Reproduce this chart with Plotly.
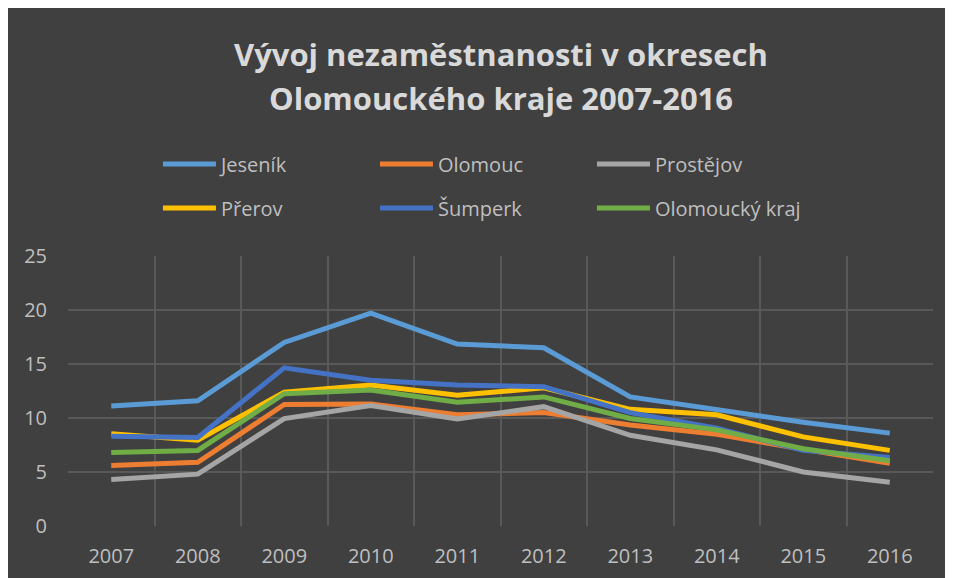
import plotly.graph_objects as go

years = ["2007", "2008", "2009", "2010", "2011", "2012", "2013", "2014", "2015", "2016"]

jesenik = [11.1, 11.6, 17.0, 19.7, 16.85, 16.5, 11.95, 10.8, 9.6, 8.6]
olomouc = [5.6, 5.9, 11.25, 11.3, 10.3, 10.5, 9.35, 8.5, 7.1, 5.8]
prostejov = [4.3, 4.8, 9.95, 11.15, 9.9, 11.05, 8.4, 7.05, 5.0, 4.05]
prerov = [8.55, 7.95, 12.4, 13.05, 12.1, 12.8, 10.8, 10.3, 8.25, 7.0]
sumperk = [8.3, 8.2, 14.65, 13.5, 13.05, 12.9, 10.5, 9.05, 7.0, 6.35]
kraj = [6.8, 7.0, 12.25, 12.6, 11.45, 11.95, 9.95, 8.9, 7.15, 6.05]

series = [
    ("Jeseník", jesenik, "#5B9BD5", "legend"),
    ("Olomouc", olomouc, "#ED7D31", "legend"),
    ("Prostějov", prostejov, "#A5A5A5", "legend"),
    ("Přerov", prerov, "#FFC000", "legend2"),
    ("Šumperk", sumperk, "#4472C4", "legend2"),
    ("Olomoucký kraj", kraj, "#70AD47", "legend2"),
]

BG = "#404040"
GRID = "#595959"
TEXT = "#bfbfbf"
FONT = "Open Sans, Lato, sans-serif"

fig = go.Figure()

# same draw order as the source: Jeseník first, Olomoucký kraj on top
for name, vals, color, leg in series:
    fig.add_trace(go.Scatter(
        x=years,
        y=vals,
        mode="lines",
        name=name,
        legend=leg,
        line=dict(color=color, width=5),
        hovertemplate="<b>" + name + "</b><br>%{x}: %{y}<extra></extra>"
    ))

# two legends, one per row (3 entries each)
legend_style = dict(
    orientation="h",
    xanchor="left",
    yanchor="middle",
    x=0.104,
    bgcolor="rgba(0,0,0,0)",
    font=dict(family=FONT, size=20, color=TEXT),
    itemwidth=53,
    entrywidth=149,
    traceorder="normal",
)

title_font = dict(family=FONT, size=31, color="#d9d9d9")

fig.update_layout(
    width=953,
    height=578,
    paper_bgcolor=BG,
    plot_bgcolor=BG,
    margin=dict(l=60, r=28, t=248, b=60),
    font=dict(family=FONT, size=20, color=TEXT),
    legend=dict(legend_style, y=1.341),
    legend2=dict(legend_style, y=1.178),
    xaxis=dict(
        type="category",
        range=[-0.5, 9.5],
        tickson="boundaries",
        showgrid=True,
        gridcolor=GRID,
        gridwidth=1.5,
        ticks="",
        showline=False,
        zeroline=False,
        automargin=False,
        ticklabelstandoff=16,
        tickfont=dict(family=FONT, size=20, color=TEXT),
    ),
    yaxis=dict(
        range=[0, 25],
        dtick=5,
        showgrid=True,
        gridcolor=GRID,
        gridwidth=1.5,
        zeroline=False,
        ticks="",
        automargin=False,
        ticklabelstandoff=20,
        tickfont=dict(family=FONT, size=20, color=TEXT),
    ),
    annotations=[
        dict(text="<b>Vývoj nezaměstnanosti v okresech</b>", xref="paper", yref="paper",
             x=0.5, y=1.748, xanchor="center", yanchor="middle", showarrow=False,
             font=title_font),
        dict(text="<b>Olomouckého kraje 2007-2016</b>", xref="paper", yref="paper",
             x=0.5, y=1.587, xanchor="center", yanchor="middle", showarrow=False,
             font=title_font),
    ],
)

fig.write_html("out.html")
